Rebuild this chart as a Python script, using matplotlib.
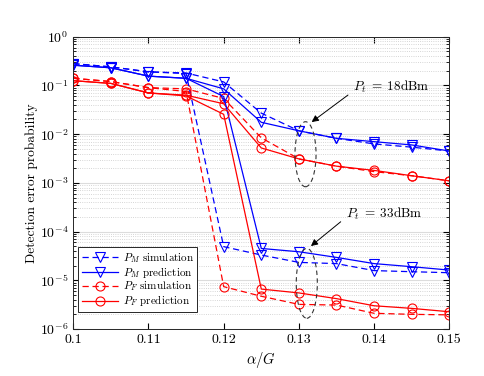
import matplotlib
matplotlib.use("Agg")
import matplotlib.pyplot as plt
from matplotlib.patches import Ellipse

plt.rcParams["font.family"] = ["cmr10", "DejaVu Serif"]
plt.rcParams["mathtext.fontset"] = "cm"
plt.rcParams["axes.formatter.use_mathtext"] = True

alpha_g = [0.1, 0.105, 0.11, 0.115, 0.12, 0.125, 0.13, 0.135, 0.14, 0.145, 0.15]

# P_t = 18 dBm
pm_sim_18 = [0.28, 0.24, 0.19, 0.18, 0.118, 0.027, 0.0117, 0.0082, 0.0063, 0.0054, 0.0045]
pm_pred_18 = [0.26, 0.23, 0.155, 0.14, 0.085, 0.0175, 0.0117, 0.0082, 0.0070, 0.0060, 0.0045]
pf_sim_18 = [0.14, 0.12, 0.09, 0.085, 0.054, 0.0084, 0.0031, 0.0022, 0.0017, 0.0014, 0.0011]
pf_pred_18 = [0.125, 0.11, 0.07, 0.063, 0.042, 0.0052, 0.0031, 0.0022, 0.0018, 0.0014, 0.0011]

# P_t = 33 dBm
pm_sim_33 = [0.28, 0.24, 0.19, 0.175, 4.9e-5, 3.3e-5, 2.33e-5, 2.2e-5, 1.58e-5, 1.5e-5, 1.43e-5]
pm_pred_33 = [0.26, 0.23, 0.155, 0.14, 0.059, 4.5e-5, 3.85e-5, 2.95e-5, 2.2e-5, 1.9e-5, 1.62e-5]
pf_sim_33 = [0.14, 0.12, 0.09, 0.075, 7.4e-6, 4.7e-6, 3.2e-6, 3.1e-6, 2.1e-6, 2.0e-6, 1.95e-6]
pf_pred_33 = [0.125, 0.11, 0.07, 0.061, 0.0255, 6.6e-6, 5.5e-6, 4.2e-6, 3.0e-6, 2.65e-6, 2.26e-6]

fig = plt.figure(figsize=(4.85, 3.76), dpi=100)
ax = fig.add_axes([0.1511, 0.125, 0.7753, 0.7774])

ms = 6.5
lw = 0.9
dash = (5, 3)
sim_kw = dict(ls="--", dashes=dash, lw=lw, mfc="none", ms=ms, mew=0.8)
pred_kw = dict(ls="-", lw=lw, mfc="none", ms=ms, mew=0.8)

ax.plot(alpha_g, pm_sim_18, "b", marker="v", label="$P_M$ simulation", **sim_kw)
ax.plot(alpha_g, pm_pred_18, "b", marker="v", label="$P_M$ prediction", **pred_kw)
ax.plot(alpha_g, pf_sim_18, "r", marker="o", label="$P_F$ simulation", **sim_kw)
ax.plot(alpha_g, pf_pred_18, "r", marker="o", label="$P_F$ prediction", **pred_kw)
ax.plot(alpha_g, pm_sim_33, "b", marker="v", **sim_kw)
ax.plot(alpha_g, pm_pred_33, "b", marker="v", **pred_kw)
ax.plot(alpha_g, pf_sim_33, "r", marker="o", **sim_kw)
ax.plot(alpha_g, pf_pred_33, "r", marker="o", **pred_kw)

ax.set_yscale("log")
ax.set_xlim(0.1, 0.15)
ax.set_ylim(1e-6, 1)
ax.set_xticks([0.1, 0.11, 0.12, 0.13, 0.14, 0.15])
ax.set_xticklabels(["0.1", "0.11", "0.12", "0.13", "0.14", "0.15"])

ax.grid(True, axis="y", which="major", color="#dcdcdc", lw=0.8, ls="-")
ax.grid(True, axis="y", which="minor", color="#c8c8c8", lw=0.6, ls=":")
ax.set_axisbelow(True)
ax.tick_params(which="both", direction="in", top=True, right=True, labelsize=10)
ax.tick_params(which="major", length=4)
ax.tick_params(which="minor", length=2)
for sp in ax.spines.values():
    sp.set_edgecolor("#262626")
    sp.set_linewidth(0.7)

ax.set_xlabel(r"$\alpha/G$", fontsize=10.5, labelpad=3)
ax.set_ylabel("Detection error probability", fontsize=9.7, labelpad=1)

# ellipses around the curves at alpha/G = 0.13, drawn in axes coords
to_ax = ax.transAxes.inverted()
def ell(xc, ytop, ybot, w):
    x0, y0 = to_ax.transform(ax.transData.transform((xc, ytop)))
    x1, y1 = to_ax.transform(ax.transData.transform((xc, ybot)))
    xw, _ = to_ax.transform(ax.transData.transform((xc + w, ytop)))
    ax.add_patch(Ellipse(((x0 + x1) / 2, (y0 + y1) / 2), 2 * (xw - x0), y0 - y1,
                         transform=ax.transAxes, fill=False, ec="#333333",
                         ls=(0, (4, 3)), lw=0.8, zorder=5))

ell(0.13088, 10 ** -1.745, 10 ** -3.08, 0.0014)
ell(0.13105, 10 ** -4.345, 10 ** -5.78, 0.0014)

ax.annotate("", xy=(0.1317, 0.0177), xytext=(0.13653, 0.0635),
            arrowprops=dict(arrowstyle="-|>", color="k", lw=0.7,
                            mutation_scale=10, shrinkA=0, shrinkB=0))
ax.text(0.1372, 0.094, r"$P_t\;=\;18\mathrm{dBm}$", fontsize=9.5, va="center")
ax.annotate("", xy=(0.1316, 5.04e-5), xytext=(0.13556, 1.59e-4),
            arrowprops=dict(arrowstyle="-|>", color="k", lw=0.7,
                            mutation_scale=10, shrinkA=0, shrinkB=0))
ax.text(0.13627, 2.36e-4, r"$P_t\;=\;33\mathrm{dBm}$", fontsize=9.5, va="center")

leg = ax.legend(loc="lower left", bbox_to_anchor=(0.013, 0.059), borderaxespad=0,
                fontsize=8, fancybox=False, framealpha=1, edgecolor="#262626",
                handlelength=3.3, handletextpad=0.4, labelspacing=0.0,
                borderpad=0.3)
leg.get_frame().set_linewidth(0.7)

fig.savefig("out.png", dpi=100)
